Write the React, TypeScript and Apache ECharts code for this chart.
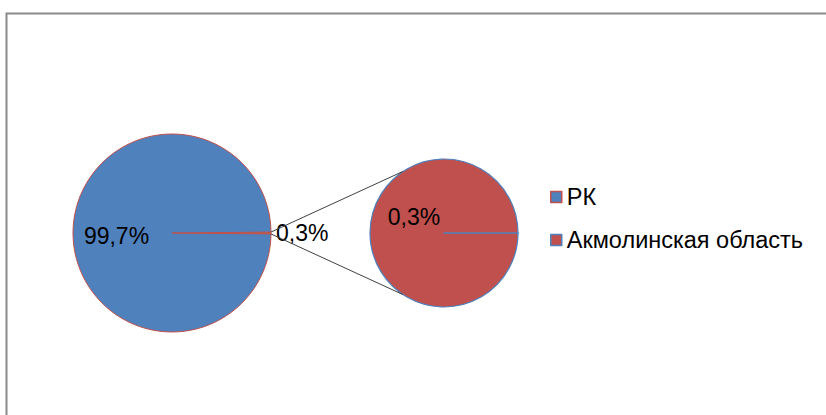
import React, { useEffect, useRef } from "react";
import * as echarts from "echarts";

// Data
const seriesNames = ["РК", "Акмолинская область"];
const mainValues = [99.7, 0.3]; // РК, Акмолинская область
const mainLabels = ["99,7%", "0,3%"];
const secondValues = [0.3]; // Акмолинская область (split-out part)
const secondLabels = ["0,3%"];

const BLUE = "#4F81BD";
const RED = "#C0504D";
const FONT = "'Liberation Sans', Arial, sans-serif";

// layout
const C1 = [172, 233];
const R1 = 99;
const C2 = [444, 233];
const R2 = 74;

export default function App() {
  const ref = useRef<HTMLDivElement>(null);
  useEffect(() => {
    if (!ref.current) return;
    const chart = echarts.init(ref.current, null, { renderer: "svg" });
    const total = mainValues[0] + mainValues[1];
    const halfSmall = (mainValues[1] / total) * 180; // half of small slice angle
    const startAngle = halfSmall;
    const a1 = (halfSmall * Math.PI) / 180;
    const connAngle = (123.6 * Math.PI) / 180;
    const lineStyle = { stroke: "#404040", lineWidth: 1 };

    chart.setOption({
      animation: false,
      backgroundColor: "#fff",
      legend: {
        orient: "vertical",
        left: 545,
        top: 180,
        itemWidth: 11,
        itemHeight: 11,
        itemGap: 19,
        icon: "rect",
        textStyle: { fontSize: 23.5, color: "#000", fontFamily: FONT },
        data: [
          { name: seriesNames[0], itemStyle: { color: BLUE, borderColor: RED, borderWidth: 1.5 } },
          { name: seriesNames[1], itemStyle: { color: RED, borderColor: BLUE, borderWidth: 1.5 } },
        ],
      },
      graphic: [
        {
          type: "rect",
          shape: { x: 6.5, y: 13.5, width: 840, height: 430 },
          style: { fill: "none", stroke: "#8a8a8a", lineWidth: 2 },
          silent: true,
        },
        {
          type: "line",
          shape: {
            x1: C1[0] + R1 * Math.cos(a1),
            y1: C1[1] - R1 * Math.sin(a1),
            x2: C2[0] + R2 * Math.cos(connAngle),
            y2: C2[1] - R2 * Math.sin(connAngle),
          },
          style: lineStyle,
          z: 10,
        },
        {
          type: "line",
          shape: {
            x1: C1[0] + R1 * Math.cos(a1),
            y1: C1[1] + R1 * Math.sin(a1),
            x2: C2[0] + R2 * Math.cos(connAngle),
            y2: C2[1] + R2 * Math.sin(connAngle),
          },
          style: lineStyle,
          z: 10,
        },
      ],
      series: [
        {
          type: "pie",
          center: C1,
          radius: R1,
          startAngle,
          clockwise: true,
          avoidLabelOverlap: false,
          legendHoverLink: false,
          emphasis: { disabled: true },
          labelLine: { show: false, length: 0, length2: 0 },
          data: [
            {
              name: seriesNames[1],
              value: mainValues[1],
              itemStyle: { color: RED, borderColor: "#C86A3A", borderWidth: 1 },
              label: {
                show: true,
                position: "outside",
                formatter: mainLabels[1],
                fontSize: 23,
                color: "#000",
                fontFamily: FONT,
              },
            },
            {
              name: seriesNames[0],
              value: mainValues[0],
              itemStyle: { color: BLUE, borderColor: RED, borderWidth: 1 },
              label: {
                show: true,
                position: "inside",
                formatter: mainLabels[0],
                fontSize: 23,
                color: "#000",
                fontFamily: FONT,
                offset: [-3, 3],
              },
            },
          ],
        },
        {
          type: "pie",
          center: C2,
          radius: R2,
          startAngle: 0,
          clockwise: true,
          avoidLabelOverlap: false,
          legendHoverLink: false,
          emphasis: { disabled: true },
          labelLine: { show: false },
          data: [
            {
              name: seriesNames[1],
              value: secondValues[0],
              itemStyle: { color: RED, borderColor: BLUE, borderWidth: 1.2 },
              label: {
                show: true,
                position: "inside",
                formatter: secondLabels[0],
                fontSize: 23,
                color: "#000",
                fontFamily: FONT,
                offset: [10, -16],
              },
            },
            {
              name: "_",
              value: 0,
              itemStyle: { color: RED, borderColor: BLUE, borderWidth: 1.5 },
              label: { show: false },
            },
          ],
        },
      ],
    });
    return () => chart.dispose();
  }, []);
  return (
    <div
      ref={ref}
      style={{ position: "fixed", left: 0, top: 0, width: 826, height: 415 }}
    />
  );
}
